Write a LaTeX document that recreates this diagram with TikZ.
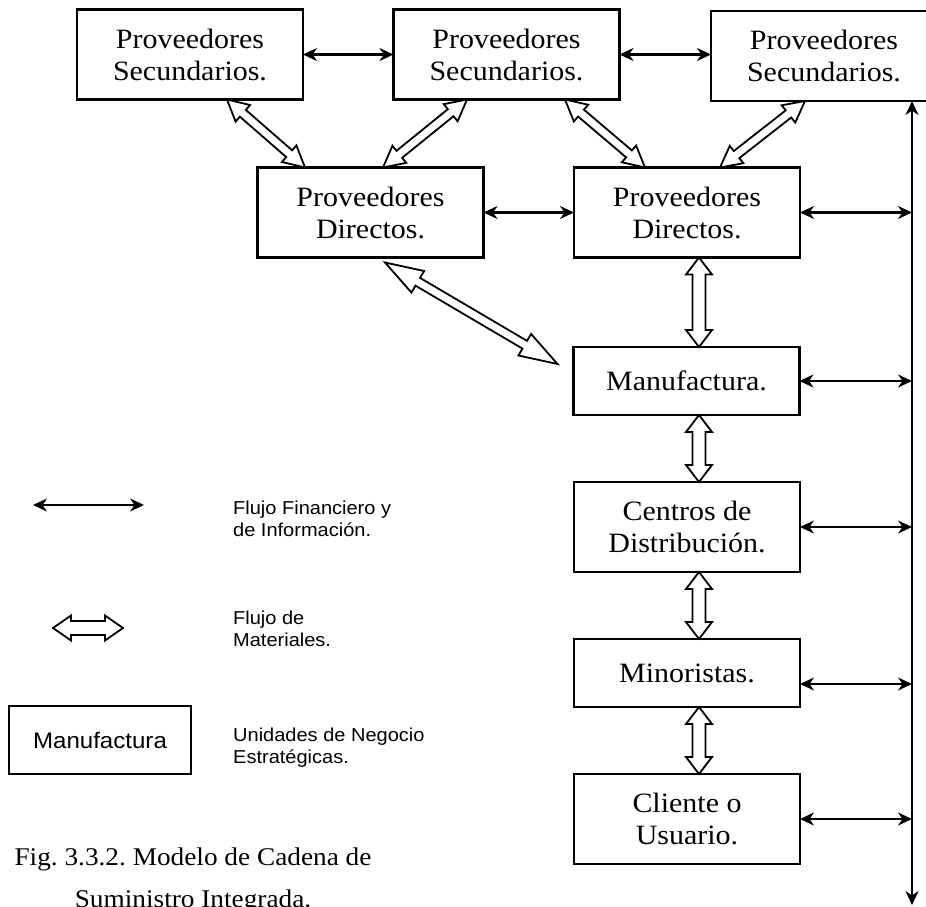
\documentclass[tikz,border=0pt]{standalone}
\usepackage{fontspec}
\setmainfont{Liberation Serif}[FakeStretch=1.07]
\newfontfamily\legendsans{Liberation Sans}[FakeStretch=1.07]
\usetikzlibrary{arrows.meta,calc}
\frenchspacing

\tikzset{
  unit/.style={draw, line width=2.2pt, minimum width=226pt, inner sep=0pt,
    outer sep=0pt, align=center, font=\fontsize{28}{32}\selectfont},
  tallbox/.style={minimum height=90pt},
  shortbox/.style={minimum height=68pt},
  tip/.tip={Stealth[length=14pt,width=13pt,inset=4.5pt]},
  flow/.style={line width=2.1pt, tip-tip},
  busline/.style={line width=2.4pt, tip-tip},
  material/.style={draw, line width=1.8pt, fill=white, line join=miter},
  legendtext/.style={anchor=base west, align=left, inner sep=0pt,
    font=\legendsans\fontsize{18.7}{22}\selectfont},
}

% Hollow double-headed arrow: from, to, head length, head half-width, shaft half-width
\newcommand\materialflow[5]{%
  \draw[material] (#1)
    -- ($(#1)!#3!(#2)!#4!90:(#2)$)
    -- ($(#1)!#3!(#2)!#5!90:(#2)$)
    -- ($(#2)!#3!(#1)!#5!-90:(#1)$)
    -- ($(#2)!#3!(#1)!#4!-90:(#1)$)
    -- (#2)
    -- ($(#2)!#3!(#1)!#4!90:(#1)$)
    -- ($(#2)!#3!(#1)!#5!90:(#1)$)
    -- ($(#1)!#3!(#2)!#5!-90:(#2)$)
    -- ($(#1)!#3!(#2)!#4!-90:(#2)$)
    -- cycle;}

\begin{document}
\begin{tikzpicture}[x=1pt, y=-1pt]
\useasboundingbox (0,0) rectangle (926,907);
\clip (0,0) rectangle (926,907);

% supply chain units
\node[unit, tallbox] (S1) at (190,54.5) {Proveedores\\Secundarios.};
\node[unit, tallbox] (S2) at (506.5,54.5) {Proveedores\\Secundarios.};
\node[unit, tallbox] (S3) at (824,56) {Proveedores\\Secundarios.};
\node[unit, tallbox] (D1) at (370.5,212.5) {Proveedores\\Directos.};
\node[unit, tallbox] (D2) at (687,212.5) {Proveedores\\Directos.};
\node[unit, shortbox] (Man) at (686.5,381) {Manufactura.};
\node[unit, tallbox] (Cen) at (687,527) {Centros de\\Distribución.};
\node[unit, shortbox] (Min) at (687,673) {Minoristas.};
\node[unit, tallbox] (Cli) at (687,819) {Cliente o\\Usuario.};

% information bus
\coordinate (busTop) at (912,101);
\coordinate (busBot) at (912,905);
\draw[busline] (busBot) -- (busTop);

% financial and information flows
\draw[flow] (S1.east) -- (S2.west);
\draw[flow] (S2.east) -- (S2.east -| S3.west);
\draw[flow] (D1.east) -- (D2.west);
\draw[flow] (D2.east) -- (D2.east -| busTop);
\draw[flow] (Man.east) -- (Man.east -| busTop);
\draw[flow] (Cen.east) -- (Cen.east -| busTop);
\coordinate (minOut) at ([yshift=-11pt]Min.east);
\draw[flow] (minOut) -- (minOut -| busTop);
\draw[flow] (Cli.east) -- (Cli.east -| busTop);

% material flows between suppliers
\coordinate (m1a) at ([xshift=37pt]S1.south);
\coordinate (m1b) at ([xshift=-65.5pt]D1.north);
\coordinate (m2a) at ([xshift=-39.5pt]S2.south);
\coordinate (m2b) at ([xshift=12.5pt]D1.north);
\coordinate (m3a) at ([xshift=58.5pt]S2.south);
\coordinate (m3b) at ([xshift=-42pt]D2.north);
\coordinate (m4a) at ([xshift=-19pt]S3.south);
\coordinate (m4b) at ([xshift=33pt]D2.north);
\coordinate (m5a) at ([xshift=14.5pt,yshift=-5pt]D1.south);
\coordinate (m5b) at ([xshift=-16pt,yshift=17pt]Man.west);
\materialflow{m1a}{m1b}{21pt}{11pt}{4.5pt}
\materialflow{m2a}{m2b}{21pt}{11pt}{4.5pt}
\materialflow{m3a}{m3b}{21pt}{11pt}{4.5pt}
\materialflow{m4a}{m4b}{21pt}{11pt}{4.5pt}
\materialflow{m5a}{m5b}{38pt}{12.5pt}{4.5pt}

% material flows down the chain
\coordinate (v1a) at ([xshift=12pt]D2.south);
\coordinate (v1b) at ([xshift=12.5pt]Man.north);
\coordinate (v2a) at ([xshift=12.5pt]Man.south);
\coordinate (v2b) at ([xshift=12pt]Cen.north);
\coordinate (v3a) at ([xshift=12pt]Cen.south);
\coordinate (v3b) at ([xshift=12pt]Min.north);
\coordinate (v4a) at ([xshift=12pt]Min.south);
\coordinate (v4b) at ([xshift=12pt]Cli.north);
\materialflow{v1a}{v1b}{17pt}{13pt}{6.5pt}
\materialflow{v2a}{v2b}{17pt}{13pt}{6.5pt}
\materialflow{v3a}{v3b}{17pt}{13pt}{6.5pt}
\materialflow{v4a}{v4b}{17pt}{13pt}{6.5pt}

% legend
\coordinate (lg1a) at (33,505);
\coordinate (lg1b) at (144,505);
\draw[flow] (lg1a) -- (lg1b);
\node[legendtext] (lgt1) at (233,536) {Flujo Financiero y\\de Información.};

\coordinate (lg2a) at (53,628);
\coordinate (lg2b) at (123,628);
\materialflow{lg2a}{lg2b}{18pt}{12.5pt}{7pt}
\node[legendtext] (lgt2) at (233,646) {Flujo de\\Materiales.};

\node[unit, minimum width=182pt, minimum height=68pt,
  font=\legendsans\fontsize{22.5}{26}\selectfont] (lgUnit) at (100,740) {Manufactura};
\node[legendtext] (lgt3) at (233,763) {Unidades de Negocio\\Estratégicas.};

% caption
\node[anchor=base, align=center, inner sep=0pt,
  font=\fontsize{25.5}{42}\selectfont] (cap) at (193,907)
  {Fig. 3.3.2. Modelo de Cadena de\\Suministro Integrada.};
\end{tikzpicture}
\end{document}
